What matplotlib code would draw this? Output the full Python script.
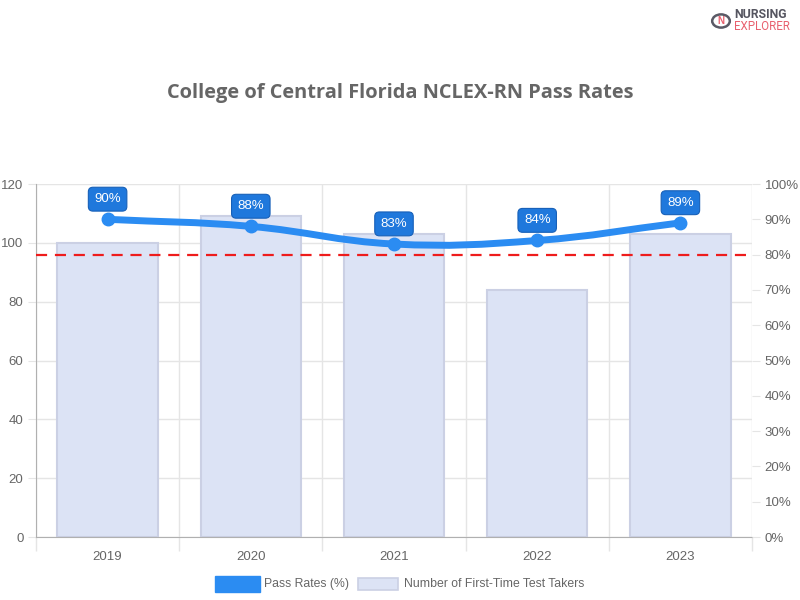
import matplotlib.pyplot as plt
import numpy as np
from matplotlib.path import Path
from matplotlib.patches import PathPatch, Rectangle, Circle

years = ["2019", "2020", "2021", "2022", "2023"]
test_takers = [100, 109, 103, 84, 103]
pass_rates = [90, 88, 83, 84, 89]
benchmark = 80

LINE_COLOR = "#2b8cf2"
BAR_FILL = "#dce3f5"
BAR_EDGE = "#cbd0e4"
TEXT_GRAY = "#666666"
GRID = "#e5e5e5"

plt.rcParams['font.family'] = ['Liberation Sans', 'DejaVu Sans']

fig = plt.figure(figsize=(8, 6), dpi=100)
ax = fig.add_axes([0.045, 0.105, 0.895, 0.5883])
ax2 = ax.twinx()

x = np.arange(len(years))

# --- bars (left axis) ---
ax.bar(x, test_takers, width=0.7, color=BAR_FILL, edgecolor=BAR_EDGE,
       linewidth=1.5, zorder=2)
ax.set_xlim(-0.5, len(years) - 0.5)
ax.set_ylim(0, 120)
ax.set_yticks(np.arange(0, 121, 20))
ax.set_xticks(x)
ax.set_xticklabels(years)
ax.set_xticks(np.arange(-0.5, len(years), 1), minor=True)
ax.tick_params(axis='x', which='major', length=0, pad=10, labelsize=9.5,
               labelcolor=TEXT_GRAY)
ax.tick_params(axis='x', which='minor', length=10, color=GRID, width=1)
ax.tick_params(axis='y', length=6, color=GRID, labelsize=9.5,
               labelcolor=TEXT_GRAY, pad=3)
ax.grid(axis='y', color=GRID, linewidth=1, zorder=0)
ax.grid(axis='x', which='minor', color=GRID, linewidth=1, zorder=0)
ax.set_axisbelow(True)
for side in ['top', 'right']:
    ax.spines[side].set_visible(False)
ax.spines['left'].set_color('#b0b0b0')
ax.spines['bottom'].set_color('#b0b0b0')

# --- line (right axis) ---
ax2.set_ylim(0, 100)
ax2.set_yticks(np.arange(0, 101, 10))
ax2.set_yticklabels([f"{v}%" for v in range(0, 101, 10)])
ax2.tick_params(axis='y', length=6, color=GRID, labelsize=9.5,
                labelcolor=TEXT_GRAY, pad=3)
for side in ['top', 'left', 'bottom', 'right']:
    ax2.spines[side].set_visible(False)

ax2.axhline(benchmark, color="#ee1c1c", linestyle=(0, (5, 3.5)), linewidth=1.6,
            zorder=3)

# smooth curve like chart.js (tension 0.4), computed in pixel space
fig.canvas.draw()
pts = ax2.transData.transform(np.column_stack([x, pass_rates]))
tension = 0.4
verts = [pts[0]]
codes = [Path.MOVETO]
ctrl = []
for i in range(len(pts)):
    p0 = pts[max(i - 1, 0)]
    p1 = pts[i]
    p2 = pts[min(i + 1, len(pts) - 1)]
    d01 = np.hypot(*(p1 - p0))
    d12 = np.hypot(*(p2 - p1))
    s01 = d01 / (d01 + d12) if (d01 + d12) else 0
    s12 = d12 / (d01 + d12) if (d01 + d12) else 0
    fa, fb = tension * s01, tension * s12
    ctrl.append((p1 - fa * (p2 - p0), p1 + fb * (p2 - p0)))
for i in range(len(pts) - 1):
    verts += [ctrl[i][1], ctrl[i + 1][0], pts[i + 1]]
    codes += [Path.CURVE4] * 3
verts = ax2.transData.inverted().transform(np.array(verts))
curve = PathPatch(Path(verts, codes), facecolor='none', edgecolor=LINE_COLOR,
                  linewidth=5, capstyle='round', joinstyle='round', zorder=4)
ax2.add_patch(curve)
ax2.plot(x, pass_rates, 'o', color=LINE_COLOR, markersize=9, zorder=5)

for xi, v in zip(x, pass_rates):
    ax2.annotate(f"{v}%", (xi, v), xytext=(0, 14.5), textcoords='offset points',
                 ha='center', va='center', color='white', fontsize=9.5, zorder=6,
                 bbox=dict(boxstyle='round,pad=0.45,rounding_size=0.35',
                           fc='#1f78dc', ec='#1760b8', lw=0.8))

# --- title ---
fig.text(0.5, 0.845, "College of Central Florida NCLEX-RN Pass Rates",
         ha='center', va='center', fontsize=14.4, fontweight='bold',
         color=TEXT_GRAY, family=['Open Sans', 'DejaVu Sans'])

# --- legend ---
fig.patches.append(Rectangle((215 / 800, 1 - 592 / 600), 45 / 800, 16 / 600,
                             transform=fig.transFigure, fc=LINE_COLOR,
                             ec=LINE_COLOR, lw=1))
fig.text(264 / 800, 1 - 584 / 600, "Pass Rates (%)", ha='left', va='center',
         fontsize=8.8, color=TEXT_GRAY)
fig.patches.append(Rectangle((358 / 800, 1 - 590 / 600), 40 / 800, 12 / 600,
                             transform=fig.transFigure, fc=BAR_FILL,
                             ec=BAR_EDGE, lw=1.2))
fig.text(404 / 800, 1 - 584 / 600, "Number of First-Time Test Takers",
         ha='left', va='center', fontsize=8.8, color=TEXT_GRAY)

# --- logo ---
fig.patches.append(Circle((721 / 800, 1 - 21 / 600), 0.011,
                          transform=fig.transFigure, fc='white',
                          ec='#5a5a66', lw=1.8))
fig.text(721 / 800, 1 - 21 / 600, "N", ha='center', va='center', fontsize=7,
         fontweight='bold', color='#e8606e')
fig.text(734 / 800, 1 - 15 / 600, "NURSING", ha='left', va='center',
         fontsize=8.8, fontweight='bold', color='#555560',
         family=['Roboto', 'DejaVu Sans'])
fig.text(734 / 800, 1 - 27 / 600, "EXPLORER", ha='left', va='center',
         fontsize=8.3, color='#e8606e', family=['Roboto', 'DejaVu Sans'])

fig.savefig("out.png", dpi=100)
